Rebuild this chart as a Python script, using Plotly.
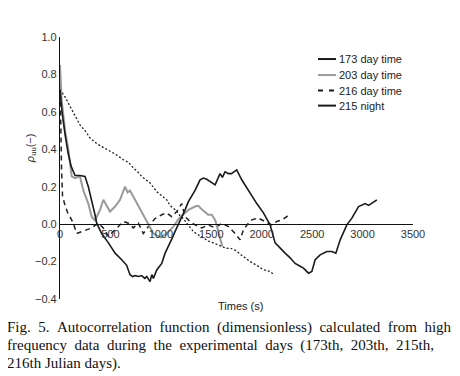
import plotly.graph_objects as go

# ---------------- data ----------------
series_names = ["173 day time", "203 day time", "216 day time", "215 night"]

t_173 = [0, 20, 50, 80, 110, 132, 149, 198, 248, 281, 314, 347, 364, 413, 480, 546, 612, 661,
         694, 720, 744, 780, 810, 840, 860, 893, 910, 926, 959, 1009, 1042, 1075, 1108, 1140,
         1175, 1207, 1240, 1273, 1306, 1339, 1389, 1422, 1455, 1488, 1538, 1587, 1610, 1637,
         1670, 1700, 1752, 1802, 1868, 1951, 2017, 2067, 2083, 2133, 2183, 2232, 2282, 2331,
         2381, 2414, 2464, 2497, 2530, 2579, 2646, 2695, 2735, 2778, 2844, 2894, 2960, 3026,
         3060, 3092, 3142]
v_173 = [0.72, 0.60, 0.48, 0.38, 0.31, 0.28, 0.26, 0.26, 0.255, 0.20, 0.13, 0.05, 0.005, -0.05,
         -0.10, -0.155, -0.19, -0.22, -0.27, -0.28, -0.275, -0.28, -0.275, -0.29, -0.28, -0.307,
         -0.27, -0.29, -0.245, -0.21, -0.155, -0.12, -0.08, -0.04, 0.0, 0.03, 0.076, 0.12, 0.15,
         0.18, 0.237, 0.246, 0.24, 0.228, 0.21, 0.27, 0.25, 0.28, 0.27, 0.27, 0.29, 0.237, 0.18,
         0.11, 0.06, 0.005, -0.004, -0.10, -0.13, -0.155, -0.18, -0.21, -0.225, -0.235, -0.262,
         -0.253, -0.19, -0.164, -0.146, -0.146, -0.155, -0.084, -0.004, 0.032, 0.094, 0.11,
         0.10, 0.11, 0.13]

t_203 = [0, 17, 50, 83, 116, 149, 198, 231, 281, 314, 347, 397, 430, 463, 496, 546, 595, 645,
         670, 694, 744, 794, 843, 893, 926, 960, 1000, 1058, 1124, 1180, 1240, 1273, 1339, 1372,
         1405, 1438, 1470, 1505, 1540, 1580, 1610]
v_203 = [0.85, 0.66, 0.50, 0.40, 0.255, 0.246, 0.255, 0.18, 0.11, 0.04, 0.02, 0.076, 0.13, 0.10,
         0.067, 0.094, 0.13, 0.20, 0.17, 0.18, 0.13, 0.076, 0.032, -0.02, -0.05, -0.06, -0.07,
         -0.05, -0.013, 0.03, 0.06, 0.076, 0.094, 0.098, 0.08, 0.067, 0.05, 0.05, 0.02, -0.06,
         -0.12]

t_216 = [0, 8, 15, 25, 33, 50, 83, 99, 132, 165, 215, 264, 314, 380, 430, 480, 529, 579, 628,
         678, 727, 777, 826, 876, 942, 1009, 1058, 1108, 1157, 1207, 1240, 1290, 1339, 1406,
         1472, 1538, 1604, 1670, 1736, 1786, 1819, 1860, 1901, 1968, 2034, 2100, 2149, 2199,
         2249, 2282]
v_216 = [0.80, 0.50, 0.30, 0.15, 0.13, 0.10, 0.05, 0.04, 0.005, -0.05, -0.04, -0.03, -0.02,
         0.005, -0.02, -0.066, -0.04, -0.013, 0.014, 0.005, -0.02, 0.005, -0.05, -0.013, 0.03,
         0.05, 0.06, 0.04, 0.067, 0.11, 0.04, 0.014, -0.004, -0.02, -0.004, -0.02, 0.005,
         -0.013, -0.05, -0.084, -0.03, 0.0, 0.023, 0.032, 0.014, -0.004, 0.014, 0.023, 0.04,
         0.06]

t_215 = [0, 50, 99, 149, 198, 248, 298, 364, 430, 496, 560, 628, 680, 727, 770, 810, 850, 893,
         959, 992, 1058, 1091, 1157, 1190, 1223, 1257, 1323, 1380, 1422, 1470, 1521, 1560, 1604,
         1650, 1687, 1740, 1786, 1852, 1885, 1950, 1984, 2017, 2083, 2110]
v_215 = [0.72, 0.68, 0.63, 0.575, 0.53, 0.50, 0.46, 0.43, 0.41, 0.39, 0.37, 0.344, 0.33, 0.30,
         0.28, 0.255, 0.24, 0.22, 0.174, 0.16, 0.13, 0.10, 0.07, 0.045, 0.03, 0.005, -0.04,
         -0.06, -0.075, -0.09, -0.10, -0.11, -0.12, -0.13, -0.128, -0.14, -0.16, -0.19, -0.20,
         -0.22, -0.23, -0.244, -0.253, -0.265]

x_ticks = [0, 500, 1000, 1500, 2000, 2500, 3000, 3500]
y_ticks = [-0.4, -0.2, 0.0, 0.2, 0.4, 0.6, 0.8, 1.0]

caption_lines = [
    "Fig. 5. Autocorrelation function (dimensionless) calculated from high",
    "frequency data during the experimental days (173th, 203th, 215th,",
    "216th Julian days).",
]
caption_justified = [True, True, False]

# ---------------- figure ----------------
# the page body has an 8px margin, so the figure is drawn 8px in from the corner
OFF = 8
W, H = 460 - OFF, 376 - OFF
PL, PR, PT, PB = 60, 413, 37, 298.6          # plot area in window pixels
ML, MR, MT, MB = PL - OFF, W + OFF - PR, PT - OFF, H + OFF - PB
PW, PH = PR - PL, PB - PT


def px(x):
    return (x - PL) / PW


def py(y):
    return (PB - y) / PH


fig = go.Figure()
fig.add_trace(go.Scatter(x=t_215, y=v_215, mode="lines", name=series_names[3],
                         line=dict(color="#222222", width=1.3, dash="2px,2px")))
fig.add_trace(go.Scatter(x=t_216, y=v_216, mode="lines", name=series_names[2],
                         line=dict(color="#222222", width=1.5, dash="5px,4px")))
fig.add_trace(go.Scatter(x=t_203, y=v_203, mode="lines", name=series_names[1],
                         line=dict(color="#9a9a9a", width=2)))
fig.add_trace(go.Scatter(x=t_173, y=v_173, mode="lines", name=series_names[0],
                         line=dict(color="#1a1a1a", width=1.6)))

tickfont = dict(family="Liberation Sans, Arial, sans-serif", size=11, color="#333333")

fig.update_layout(
    width=W, height=H,
    margin=dict(l=ML, r=MR, t=MT, b=MB),
    paper_bgcolor="white", plot_bgcolor="white",
    showlegend=False,
    xaxis=dict(range=[0, 3500], tickvals=x_ticks, ticktext=[str(v) for v in x_ticks],
               showgrid=False, zeroline=False, showline=True, linecolor="#111111",
               linewidth=1.2, ticks="", tickfont=tickfont,
               anchor="free", position=0.4 / 1.4),
    yaxis=dict(range=[-0.4, 1.0], tickvals=y_ticks, tickformat=".1f",
               showgrid=False, zeroline=False, showline=True, linecolor="#111111",
               linewidth=1.2, ticks="", tickfont=tickfont),
)

# manual legend (line samples as in the original)
leg_rows = [59, 75, 90.5, 105.5]
leg_styles = [
    dict(color="#1a1a1a", width=2, dash="solid"),
    dict(color="#9a9a9a", width=2, dash="solid"),
    dict(color="#1a1a1a", width=2, dash="5px,6px"),
    dict(color="#1a1a1a", width=2, dash="solid"),
]
for name, yrow, st in zip(series_names, leg_rows, leg_styles):
    fig.add_shape(type="line", xref="paper", yref="paper",
                  x0=px(318), x1=px(336), y0=py(yrow), y1=py(yrow), line=st)
    fig.add_annotation(xref="paper", yref="paper", x=px(337), y=py(yrow), text=name,
                       showarrow=False, xanchor="left", yanchor="middle",
                       font=dict(family="Liberation Sans, Arial, sans-serif", size=11,
                                 color="#222222"))

# axis titles
fig.add_annotation(xref="paper", yref="paper", x=px(31), y=py(148),
                   text="<i>ρ</i><sub>uu</sub>(−)", textangle=-90, showarrow=False,
                   xanchor="center", yanchor="middle",
                   font=dict(family="Liberation Sans, Arial, sans-serif", size=11, color="#333333"))
fig.add_annotation(xref="paper", yref="paper", x=px(241), y=py(306), text="Times (s)",
                   showarrow=False, xanchor="center", yanchor="middle",
                   font=dict(family="Liberation Sans, Arial, sans-serif",
                             size=11, color="#222222"))

# caption (justified lines get widened word gaps)
for i, (line, just) in enumerate(zip(caption_lines, caption_justified)):
    txt = line.replace(" ", " \u00a0") if just else line
    fig.add_annotation(xref="paper", yref="paper", x=px(5), y=py(327 + 18 * i), text=txt,
                       showarrow=False, xanchor="left", yanchor="middle",
                       font=dict(family="Liberation Serif, Times New Roman, serif", size=15,
                                 color="#111111"))

fig.write_html("out.html")
